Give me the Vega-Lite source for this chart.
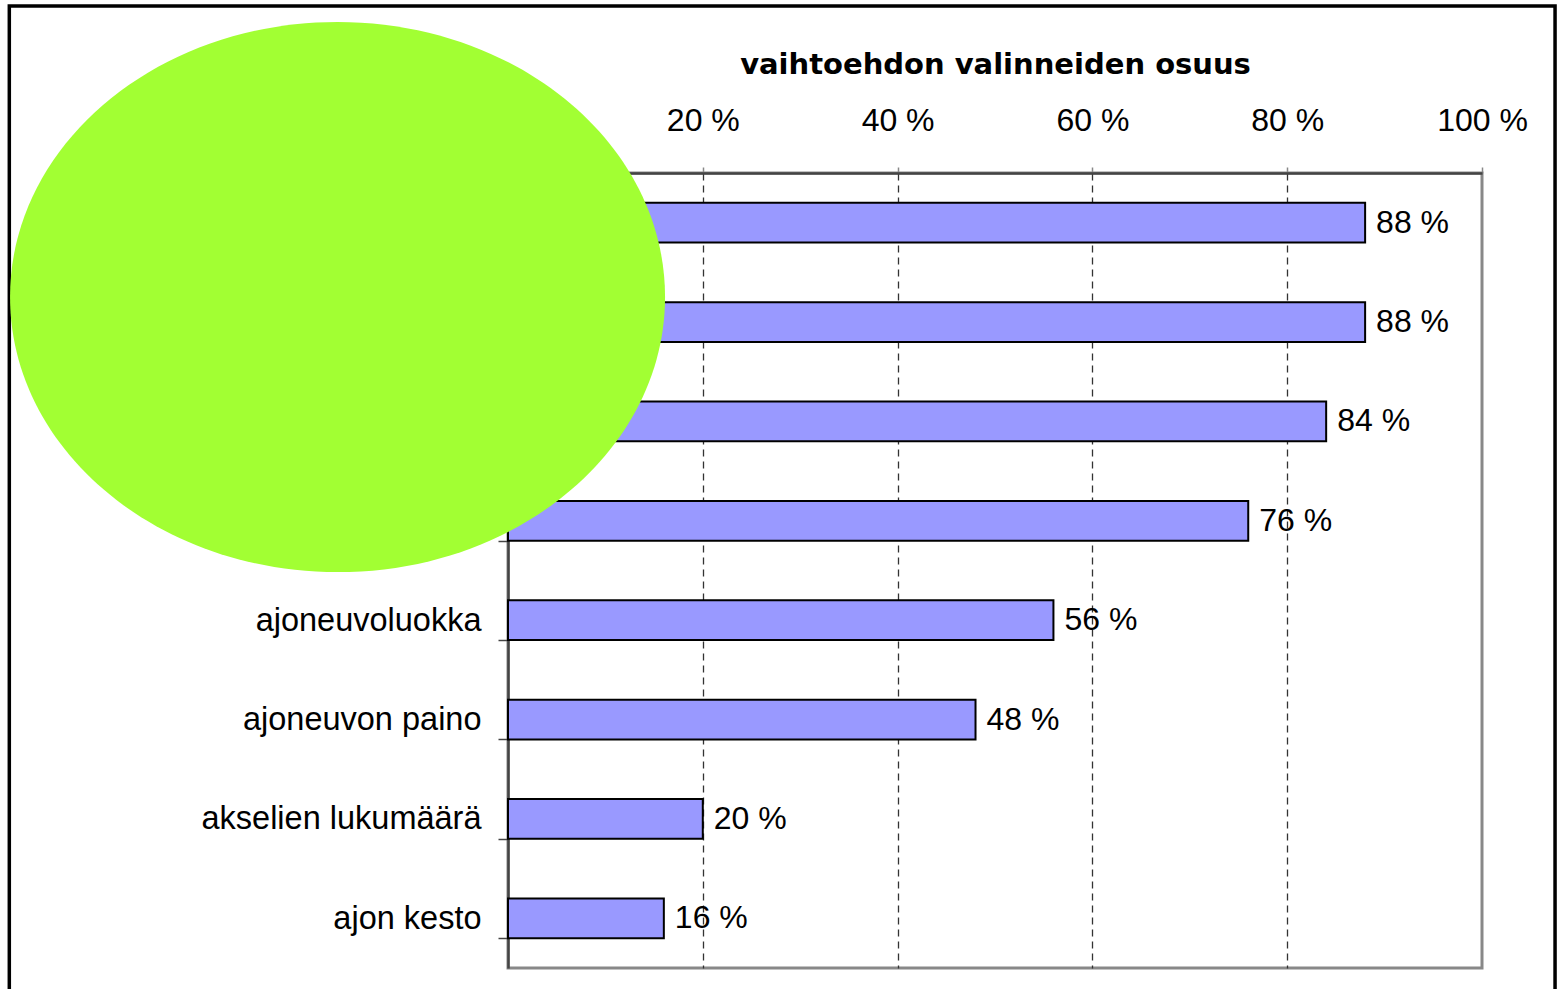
{
  "$schema": "https://vega.github.io/schema/vega-lite/v6.json",
  "width": 974,
  "height": 795,
  "autosize": {"type": "none"},
  "padding": {"left": 508, "top": 173, "right": 80, "bottom": 21},
  "background": "white",
  "config": {
    "font": "Liberation Sans",
    "view": {"stroke": "#888888", "strokeWidth": 3}
  },
  "datasets": {
    "bars": [
      {"kohde": "ajoneuvon tyyppi", "osuus": 88, "label": "88 %"},
      {"kohde": "ajomatka", "osuus": 88, "label": "88 %"},
      {"kohde": "ajon ajankohta", "osuus": 84, "label": "84 %"},
      {"kohde": "ajoalue", "osuus": 76, "label": "76 %"},
      {"kohde": "ajoneuvoluokka", "osuus": 56, "label": "56 %"},
      {"kohde": "ajoneuvon paino", "osuus": 48, "label": "48 %"},
      {"kohde": "akselien lukumäärä", "osuus": 20, "label": "20 %"},
      {"kohde": "ajon kesto", "osuus": 16, "label": "16 %"}
    ],
    "frame": [{"x1": -51.2, "x2": 107.5, "y1": -1.68, "y2": 8.3}],
    "blob": [{"cx": -17.5, "cy": 1.248}]
  },
  "layer": [
    {
      "data": {"name": "bars"},
      "encoding": {
        "y": {
          "field": "kohde", "type": "nominal", "sort": null,
          "scale": {"type": "band", "paddingInner": 0.6, "paddingOuter": 0.3},
          "axis": {
            "title": null, "labelFontSize": 32.5, "labelColor": "black", "labelLimit": 0,
            "labelPadding": 17, "domainColor": "#444444", "domainWidth": 2.5,
            "tickColor": "#444444", "tickSize": 10, "tickWidth": 1.5, "tickBand": "extent",
            "grid": false
          }
        },
        "x": {
          "field": "osuus", "type": "quantitative",
          "scale": {"domain": [0, 100], "nice": false},
          "axis": {
            "orient": "top", "title": "vaihtoehdon valinneiden osuus",
            "titleFont": "DejaVu Sans", "titleFontSize": 29, "titleFontWeight": "bold", "titleColor": "black", "titlePadding": 25,
            "values": [0, 20, 40, 60, 80, 100],
            "labelExpr": "datum.value + ' %'", "labelFontSize": 32, "labelColor": "black",
            "labelPadding": 30, "labelFlush": false, "labelOverlap": false,
            "domainColor": "#444444", "domainWidth": 2.5,
            "tickColor": "#888888", "tickSize": 6, "tickWidth": 1.5,
            "grid": true, "gridColor": "#333333", "gridWidth": 1.3, "gridDash": [7, 5],
            "gridOpacity": {"condition": {"test": "datum.value == 0 || datum.value == 100", "value": 0}, "value": 1}
          }
        }
      },
      "layer": [
        {"mark": {"type": "bar", "fill": "#9999ff", "stroke": "black", "strokeWidth": 2}},
        {
          "mark": {"type": "text", "align": "left", "baseline": "middle", "dx": 11, "fontSize": 32, "color": "black"},
          "encoding": {"text": {"field": "label"}}
        }
      ]
    },
    {
      "data": {"name": "frame"},
      "mark": {"type": "rect", "fill": null, "fillOpacity": 0, "stroke": "black", "strokeWidth": 3.5},
      "encoding": {
        "x": {"field": "x1", "type": "quantitative", "scale": {"domain": [0, 100], "nice": false}},
        "x2": {"field": "x2"},
        "y": {"field": "y1", "type": "quantitative", "scale": {"domain": [0, 8], "reverse": true, "nice": false, "zero": false}, "axis": null},
        "y2": {"field": "y2"}
      }
    },
    {
      "data": {"name": "blob"},
      "mark": {
        "type": "point", "filled": true, "fill": "#a2ff33", "opacity": 1, "strokeWidth": 0,
        "shape": "M -1 0 C -1 -0.464 -0.552 -0.84 0 -0.84 C 0.552 -0.84 1 -0.464 1 0 C 1 0.464 0.552 0.84 0 0.84 C -0.552 0.84 -1 0.464 -1 0 Z",
        "size": 429025
      },
      "encoding": {
        "x": {"field": "cx", "type": "quantitative", "scale": {"domain": [0, 100], "nice": false}},
        "y": {"field": "cy", "type": "quantitative", "scale": {"domain": [0, 8], "reverse": true, "nice": false, "zero": false}, "axis": null}
      }
    }
  ],
  "resolve": {"scale": {"y": "independent"}, "axis": {"y": "independent"}}
}
